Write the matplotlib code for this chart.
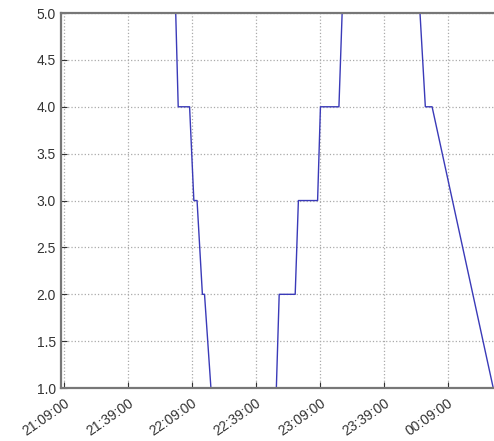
import matplotlib
matplotlib.use("Agg")
import matplotlib.pyplot as plt
import matplotlib.dates as mdates
import pandas as pd

# readings (time, level); values above 5.0 are clipped by the axis
times = ["22:01:30", "22:02:40", "22:08:00", "22:10:00", "22:11:30", "22:14:00",
         "22:15:00", "22:18:00", "22:48:40", "22:50:00", "22:57:30", "22:59:00",
         "23:08:00", "23:09:20", "23:18:00", "23:19:30", "23:38:00", "23:56:00",
         "23:58:30", "00:01:40", "00:30:20"]
levels = [5.0, 4.0, 4.0, 3.0, 3.0, 2.0, 2.0, 1.0, 1.0, 2.0, 2.0, 3.0,
          3.0, 4.0, 4.0, 5.0, 6.0, 5.0, 4.0, 4.0, 1.0]
tick_times = ["21:09:00", "21:39:00", "22:09:00", "22:39:00", "23:09:00",
              "23:39:00", "00:09:00"]
y_ticks = [1.0, 1.5, 2.0, 2.5, 3.0, 3.5, 4.0, 4.5, 5.0]


def to_dt(labels):
    out = []
    for s in labels:
        day = "2015-01-02" if s.startswith("00") else "2015-01-01"
        out.append(pd.Timestamp(f"{day} {s}").to_pydatetime())
    return out


plt.rcParams["font.family"] = ["Liberation Sans", "DejaVu Sans"]

fig = plt.figure(figsize=(4.94, 4.41), dpi=100)
ax = fig.add_axes([0.1225, 0.12, 0.8875, 0.8505])

ax.plot(to_dt(times), levels, color="#3a3ab8", linewidth=1.0)

ax.set_ylim(1.0, 5.0)
ax.set_yticks(y_ticks)
ax.set_yticklabels([f"{v:.1f}" for v in y_ticks])
ax.set_xlim(to_dt(["21:07:30"])[0], to_dt(["00:33:00"])[0])
ax.set_xticks(to_dt(tick_times))
ax.xaxis.set_major_formatter(mdates.DateFormatter("%H:%M:%S"))
plt.setp(ax.get_xticklabels(), rotation=35, ha="right", rotation_mode="anchor")

ax.tick_params(direction="in", labelsize=10, colors="#333333", length=4)
ax.tick_params(axis="x", pad=6)
for sp in ax.spines.values():
    sp.set_color("#777777")
    sp.set_linewidth(1.6)
ax.grid(True, linestyle=":", color="#aaaaaa", linewidth=0.9)

fig.savefig("out.png", dpi=100)
